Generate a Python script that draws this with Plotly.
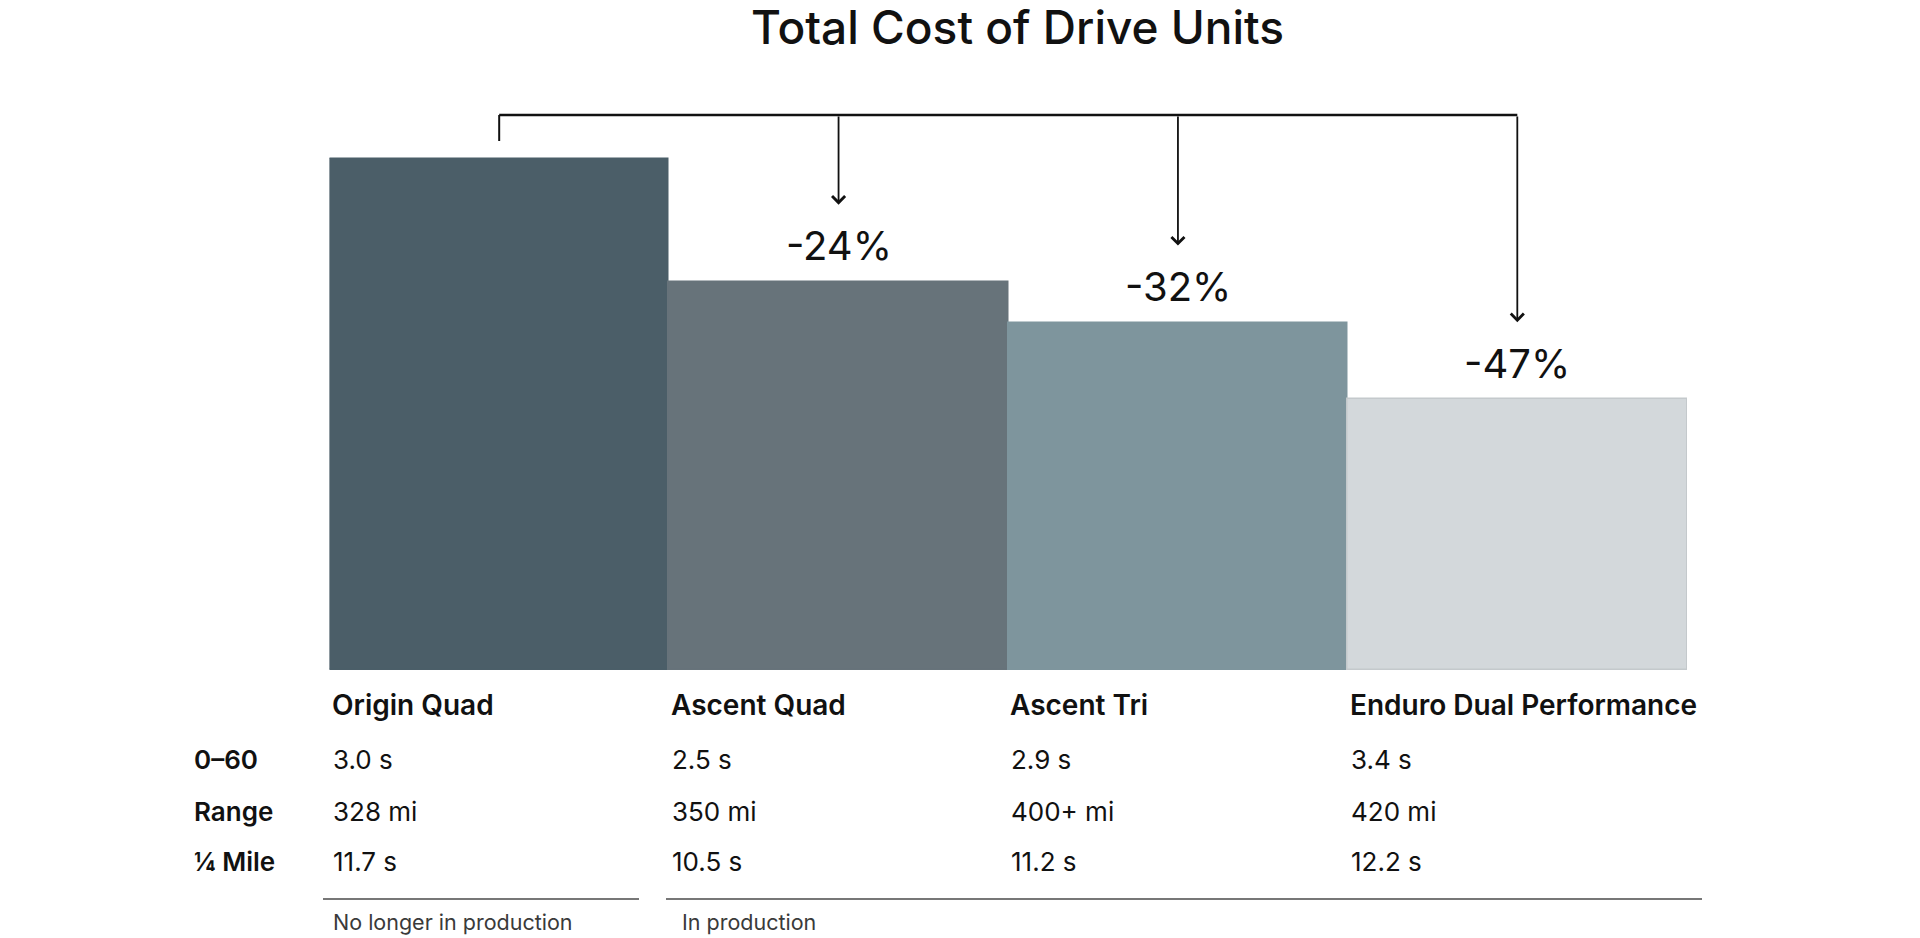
import plotly.graph_objects as go

# ---- data ----
models = ["Origin Quad", "Ascent Quad", "Ascent Tri", "Enduro Dual Performance"]
relative_cost = [100, 76, 68, 53]  # relative total cost, Origin Quad = 100
zero_to_sixty = ["3.0 s", "2.5 s", "2.9 s", "3.4 s"]
range_mi = ["328 mi", "350 mi", "400+ mi", "420 mi"]
quarter_mile = ["11.7 s", "10.5 s", "11.2 s", "12.2 s"]
row_labels = ["0–60", "Range", "¼ Mile"]
status_labels = ["No longer in production", "In production"]
bar_colors = ["#4b5e68", "#67737a", "#7e959d", "#d3d8db"]
bar_line_colors = ["#4b5e68", "#67737a", "#7e959d", "#c4c9cc"]

W, H = 1920, 938
FONT = "Inter"

fig = go.Figure()
fig.add_trace(go.Bar(
    x=list(range(len(models))), y=relative_cost,
    marker=dict(color=bar_colors, line=dict(color=bar_line_colors, width=1.5)),
    width=1.0, hoverinfo="skip", showlegend=False,
))

# pixel geometry helpers
x_left_px, x_right_px = 329.5, 1687.0
y_base_px = 670.0
px_per_unit = (670.0 - 159.0) / 100.0
y_top_val = y_base_px / px_per_unit


def ypaper(px):
    return 1 - px / H


def xpaper(px):
    return px / W


shapes = []
annotations = []

# bracket
bracket_y = max(relative_cost) + (159 - 115) / px_per_unit
shapes.append(dict(type="line", xref="x", yref="y", x0=0, x1=len(models) - 1,
                   y0=bracket_y, y1=bracket_y, line=dict(color="#111111", width=2.5)))
shapes.append(dict(type="line", xref="x", yref="y", x0=0, x1=0,
                   y0=bracket_y, y1=max(relative_cost) + 18 / px_per_unit,
                   line=dict(color="#111111", width=2)))

base = relative_cost[0]
for i, v in enumerate(relative_cost[1:], start=1):
    tip = v + 77 / px_per_unit
    annotations.append(dict(x=i, y=tip, ax=i, ay=bracket_y, xref="x", yref="y",
                            axref="x", ayref="y", text="", showarrow=True,
                            arrowhead=4, arrowsize=1.4, arrowwidth=1.8,
                            arrowcolor="#111111"))
    pct = round((v - base) / base * 100)
    annotations.append(dict(x=i, y=v + 36 / px_per_unit, xref="x", yref="y",
                            text=f"{pct}%", showarrow=False,
                            font=dict(family=FONT, size=40, color="#111111"),
                            xanchor="center", yanchor="middle"))

# table
name_y = 705
row_ys = [759, 811, 861]
for i, name in enumerate(models):
    annotations.append(dict(x=i - 0.5, y=ypaper(name_y), xref="x", yref="paper",
                            xshift=0, text=name, showarrow=False, xanchor="left",
                            yanchor="middle",
                            font=dict(family=FONT, size=28, color="#111111", weight=600)))
    for ry, vals in zip(row_ys, [zero_to_sixty, range_mi, quarter_mile]):
        annotations.append(dict(x=i - 0.5, y=ypaper(ry), xref="x", yref="paper",
                                xshift=1, text=vals[i], showarrow=False, xanchor="left",
                                yanchor="middle",
                                font=dict(family=FONT, size=26, color="#111111")))
for ry, lab in zip(row_ys, row_labels):
    annotations.append(dict(x=192 / W, y=ypaper(ry), xref="paper", yref="paper",
                            text=lab, showarrow=False, xanchor="left", yanchor="middle",
                            font=dict(family=FONT, size=26, color="#111111", weight=600)))

# production lines (paper coords so they are not clipped to the plot area)
line_y = ypaper(899)
shapes.append(dict(type="line", xref="paper", yref="paper", x0=xpaper(323), x1=xpaper(639),
                   y0=line_y, y1=line_y, line=dict(color="#777777", width=2)))
shapes.append(dict(type="line", xref="paper", yref="paper", x0=xpaper(666), x1=xpaper(1702),
                   y0=line_y, y1=line_y, line=dict(color="#777777", width=2)))
annotations.append(dict(x=-0.5, y=ypaper(922), xref="x", yref="paper", xshift=1,
                        text=status_labels[0], showarrow=False, xanchor="left",
                        yanchor="middle", font=dict(family=FONT, size=21.5, color="#3a3a3a")))
annotations.append(dict(x=0.5, y=ypaper(922), xref="x", yref="paper", xshift=11,
                        text=status_labels[1], showarrow=False, xanchor="left",
                        yanchor="middle", font=dict(family=FONT, size=21.5, color="#3a3a3a")))

fig.update_layout(
    width=W, height=H,
    margin=dict(l=0, r=0, t=0, b=0),
    paper_bgcolor="white", plot_bgcolor="white",
    title=dict(text="Total Cost of Drive Units", x=0.53, xanchor="center",
               y=ypaper(28), yanchor="middle",
               font=dict(family=FONT, size=46, color="#111111", weight=500)),
    xaxis=dict(domain=[x_left_px / W, x_right_px / W], range=[-0.5, len(models) - 0.5],
               visible=False, fixedrange=True),
    yaxis=dict(domain=[1 - y_base_px / H, 1], range=[0, y_top_val],
               visible=False, fixedrange=True),
    bargap=0,
    shapes=shapes,
    annotations=annotations,
)

fig.write_html("out.html", config={"displayModeBar": False},
               post_script="document.body.style.margin='0';document.body.style.overflow='hidden';")
